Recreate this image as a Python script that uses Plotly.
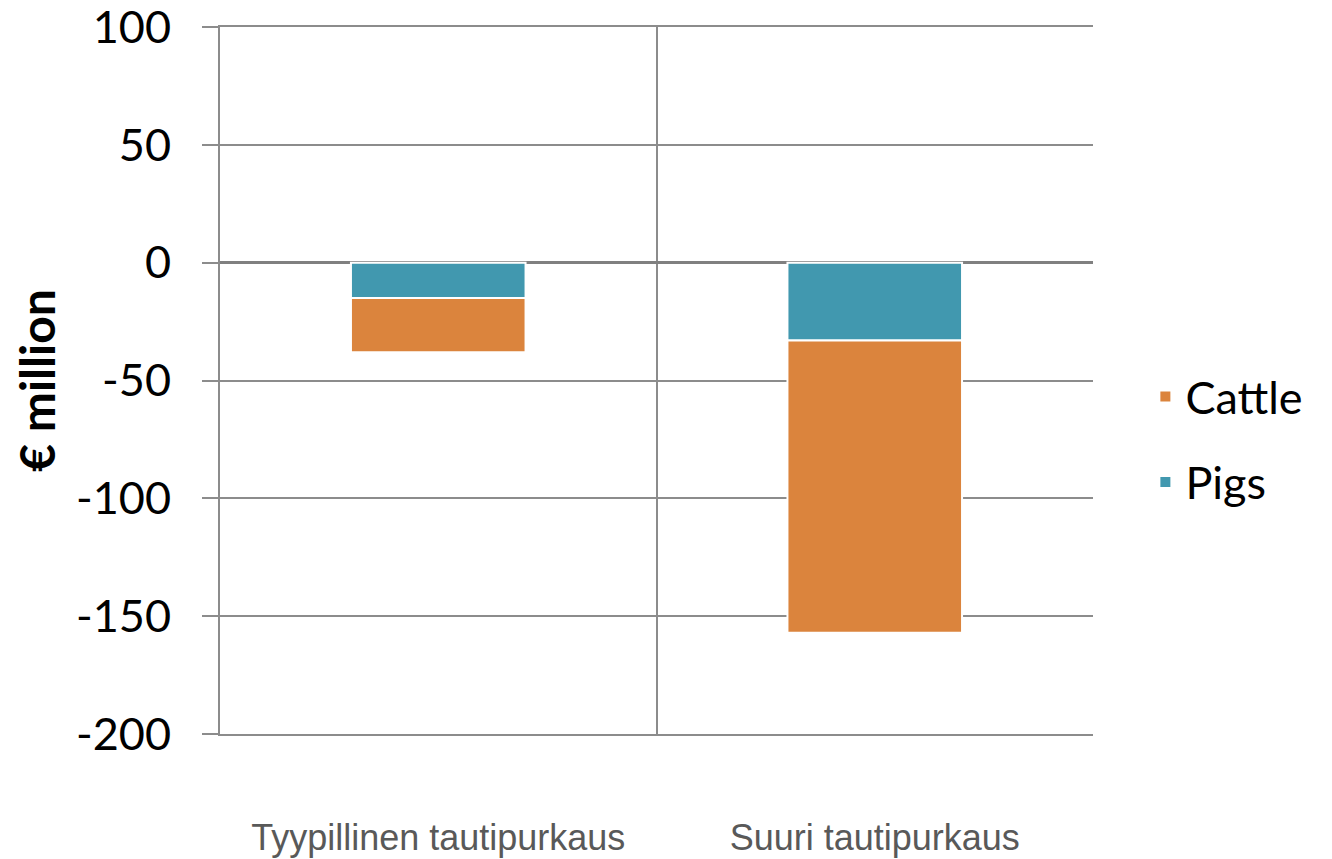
import plotly.graph_objects as go

categories = ["Tyypillinen tautipurkaus", "Suuri tautipurkaus"]
pigs = [-15, -33]
cattle = [-23, -124]
y_ticks = [100, 50, 0, -50, -100, -150, -200]
y_tick_text = ["100", "50", "0", "-50", "-100", "-150", "-200"]

ORANGE = "#DB843D"
TEAL = "#4198AF"
GRID = "#8C8C8C"

fig = go.Figure()
fig.add_trace(go.Bar(name="Pigs", x=categories, y=pigs,
                     marker=dict(color=TEAL, line=dict(color="white", width=2)),
                     width=0.4, legendrank=2, legendgroup="p"))
fig.add_trace(go.Bar(name="Cattle", x=categories, y=cattle,
                     marker=dict(color=ORANGE, line=dict(color="white", width=2)),
                     width=0.4, legendrank=1, legendgroup="c"))

fig.update_layout(
    width=1332, height=859,
    barmode="relative",
    plot_bgcolor="white", paper_bgcolor="white",
    margin=dict(l=212, r=247, t=19, b=133, autoexpand=False),
    font=dict(family="Lato, Open Sans, sans-serif", color="black"),
    legend=dict(x=1.06, y=0.417, xanchor="left", yanchor="middle",
                traceorder="grouped", tracegroupgap=24,
                font=dict(size=45, family="Lato, sans-serif")),
    xaxis=dict(
        type="category", tickson="boundaries", showgrid=True, gridcolor=GRID, gridwidth=2,
        showline=True, mirror=True, linecolor=GRID, linewidth=2, ticks="", zeroline=False,
        tickfont=dict(family="Liberation Sans, Arial, sans-serif", size=36, color="#595959"),
        ticklabelstandoff=71, range=[-0.5, 1.5],
    ),
    yaxis=dict(
        range=[-200, 100], tickvals=y_ticks, ticktext=y_tick_text,
        showgrid=True, gridcolor=GRID, gridwidth=2,
        zeroline=True, zerolinecolor="#808080", zerolinewidth=3,
        showline=True, linecolor=GRID, linewidth=2,
        ticks="outside", ticklen=16, tickcolor=GRID, tickwidth=2,
        tickfont=dict(size=45, family="Lato, sans-serif", color="black"),
        ticklabelstandoff=22, ticklabeloverflow="allow",
        title=dict(text="<b>€ million</b>", font=dict(size=48, family="Lato, sans-serif"), standoff=14),
    ),
)

fig.write_html("out.html")
